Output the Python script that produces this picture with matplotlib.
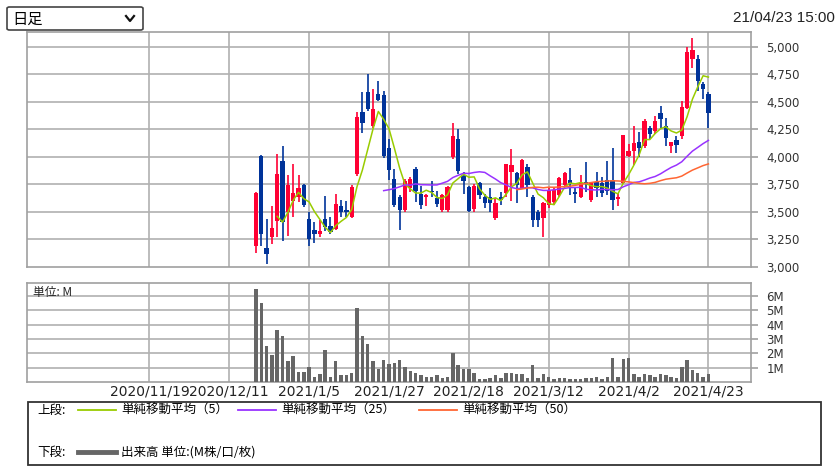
# 日足チャート (candles + moving averages + volume)
import numpy as np
import pandas as pd
import matplotlib
matplotlib.use('Agg')
import matplotlib.pyplot as plt
from matplotlib.lines import Line2D
from matplotlib.patches import Rectangle, FancyBboxPatch

plt.rcParams['font.family'] = ['Noto Sans CJK JP', 'DejaVu Sans']

# daily OHLC, 2020/12/18 .. 2021/4/23 (86 trading days)
opens = [3190, 4006, 3173, 3273, 3418, 3961, 3500, 3600, 3636, 3748,
         3439, 3333, 3303, 3433, 3370, 3348, 3551, 3515, 3455, 3842,
         4411, 4588, 4283, 4573, 4563, 4084, 3800, 3635, 3515, 3715,
         3890, 3665, 3635, 3695, 3629, 3515, 3515, 4000, 4160, 3830,
         3730, 3530, 3760, 3640, 3640, 3443, 3639, 3669, 3865, 3855,
         3714, 3910, 3639, 3500, 3443, 3563, 3590, 3654, 3744, 3790,
         3684, 3639, 3775, 3610, 3775, 3761, 3790, 3791, 3620, 3761,
         4005, 4050, 4134, 4097, 4266, 4235, 4400, 4281, 4097, 4152,
         4189, 4449, 4893, 4893, 4663, 4572]
highs = [3680, 4015, 3433, 3551, 4030, 4097, 3833, 3939, 3833, 3757,
         3500, 3409, 3424, 3642, 3455, 3661, 3606, 3600, 3742, 4409,
         4588, 4756, 4618, 4689, 4603, 4160, 3890, 3650, 3800, 3815,
         3905, 3740, 3665, 3785, 3695, 3665, 3740, 4310, 4250, 3860,
         3740, 3755, 3770, 3660, 3714, 3623, 3685, 3940, 4075, 3865,
         3978, 3940, 3655, 3520, 3590, 3720, 3720, 3820, 3865, 3904,
         3730, 3835, 3955, 3775, 3865, 3820, 3960, 4082, 3670, 4204,
         4120, 4281, 4230, 4342, 4282, 4373, 4460, 4358, 4134, 4189,
         4510, 5000, 5083, 4924, 4680, 4587]
lows = [3125, 3188, 3030, 3206, 3273, 3236, 3282, 3455, 3591, 3545,
        3191, 3221, 3273, 3327, 3303, 3339, 3455, 3455, 3448, 3824,
        4221, 4420, 4267, 4512, 3993, 3794, 3545, 3335, 3500, 3680,
        3590, 3530, 3550, 3635, 3545, 3500, 3500, 3985, 3845, 3665,
        3500, 3500, 3620, 3540, 3503, 3428, 3565, 3640, 3600, 3578,
        3705, 3640, 3367, 3364, 3277, 3540, 3560, 3640, 3730, 3654,
        3580, 3630, 3684, 3595, 3640, 3640, 3650, 3516, 3550, 3750,
        4000, 3930, 4000, 4080, 4160, 4205, 4266, 4100, 4035, 4035,
        4160, 4435, 4810, 4602, 4526, 4266]
closes = [3673, 3303, 3121, 3358, 3848, 3409, 3742, 3673, 3721, 3561,
          3258, 3303, 3324, 3364, 3318, 3570, 3500, 3500, 3727, 4364,
          4313, 4435, 4435, 4521, 4008, 3886, 3560, 3521, 3785, 3800,
          3695, 3560, 3650, 3680, 3575, 3650, 3725, 4190, 3875, 3780,
          3510, 3740, 3650, 3585, 3585, 3584, 3609, 3940, 3925, 3744,
          3970, 3744, 3428, 3428, 3578, 3700, 3700, 3805, 3850, 3760,
          3663, 3760, 3753, 3760, 3714, 3669, 3690, 3608, 3640, 4204,
          4050, 4128, 4082, 4327, 4205, 4327, 4342, 4174, 4134, 4113,
          4458, 4954, 4969, 4694, 4617, 4397]
# volume in millions of shares
volume = [6.49, 5.50, 2.52, 1.90, 3.62, 3.20, 1.43, 1.79, 0.73, 0.73,
          1.08, 0.38, 0.56, 2.21, 0.38, 1.43, 0.47, 0.47, 0.64, 5.15,
          3.20, 2.66, 1.43, 0.92, 1.50, 1.27, 1.34, 1.50, 1.08, 0.80,
          0.64, 0.47, 0.38, 0.38, 0.47, 0.28, 0.38, 2.05, 1.18, 0.92,
          0.92, 0.64, 0.19, 0.19, 0.28, 0.47, 0.28, 0.64, 0.64, 0.56,
          0.56, 0.28, 1.18, 0.28, 0.56, 0.38, 0.19, 0.28, 0.28, 0.19,
          0.19, 0.19, 0.28, 0.28, 0.38, 0.19, 0.38, 1.69, 0.38, 1.60,
          1.69, 0.56, 0.38, 0.56, 0.47, 0.38, 0.56, 0.47, 0.38, 0.28,
          1.08, 1.50, 0.82, 0.64, 0.38, 0.56]

date_labels = ['2020/11/19', '2020/12/11', '2021/1/5', '2021/1/27',
               '2021/2/18', '2021/3/12', '2021/4/2', '2021/4/23']
price_ticks = [3000, 3250, 3500, 3750, 4000, 4250, 4500, 4750, 5000]
vol_ticks = [1, 2, 3, 4, 5, 6]
ma_periods = [5, 25, 50]
ma_colors = ['#99cc00', '#9933ff', '#ff6633']

UP = '#ff0033'
DOWN = '#003399'
GRID = '#b0b0b0'

o = np.array(opens)
h = np.array(highs)
l = np.array(lows)
c = np.array(closes)
x = np.arange(len(c))
tick_pos = np.arange(-20, 86, 15)
xlim = (-43, 93)

fig = plt.figure(figsize=(8.4, 4.7), dpi=100)
W, H = 840, 470


def fx(px):
    return px / W


def fy(py):
    return 1 - py / H


def style_axes(ax):
    for s in ax.spines.values():
        s.set_color('#a0a0a0')
        s.set_linewidth(1.2)
    ax.yaxis.tick_right()
    ax.tick_params(axis='y', colors='#a0a0a0', labelcolor='#333333',
                   length=5, width=1.2, labelsize=8.5, pad=6)
    ax.tick_params(axis='x', length=0)
    ax.set_xlim(*xlim)
    for t in tick_pos:
        ax.axvline(t, color=GRID, lw=1.2, zorder=0)


# --- price panel ---
ax = fig.add_axes([fx(27), fy(267), fx(751) - fx(27), fy(32) - fy(267)])
style_axes(ax)
ax.set_ylim(3000, 5136)
ax.set_yticks(price_ticks)
ax.set_yticklabels([f'{v:,}' for v in price_ticks], family='DejaVu Sans')
ax.set_xticks([])
for v in price_ticks[1:]:
    ax.axhline(v, color=GRID, lw=1.2, zorder=0)

up = c >= o
colors = np.where(up, UP, DOWN)
ax.vlines(x, l, h, colors=colors, lw=1.2, zorder=2)
body = np.maximum(np.abs(c - o), 8)
ax.bar(x, body, bottom=np.minimum(o, c), width=0.8, color=colors,
       linewidth=0, zorder=3)

s = pd.Series(c, dtype=float)
for n, col in zip(ma_periods, ma_colors):
    ax.plot(x, s.rolling(n).mean(), color=col, lw=1.1, zorder=4)

# --- volume panel ---
axv = fig.add_axes([fx(27), fy(382), fx(751) - fx(27), fy(283) - fy(382)])
style_axes(axv)
axv.set_ylim(0, 6.9)
axv.set_yticks(vol_ticks)
axv.set_yticklabels([f'{v}M' for v in vol_ticks], family='DejaVu Sans')
for v in vol_ticks:
    axv.axhline(v, color=GRID, lw=1.2, zorder=0)
axv.bar(x, volume, width=0.65, color='#666666', linewidth=0, zorder=3)
axv.set_xticks(tick_pos)
axv.set_xticklabels(date_labels, family='DejaVu Sans', fontsize=10,
                    color='#222222')
axv.tick_params(axis='x', pad=2)
axv.text(0.008, 0.97, '単位: M', transform=axv.transAxes, fontsize=8.5,
         va='top', ha='left', color='#222222')

# --- header ---
fig.patches.append(FancyBboxPatch((fx(7), fy(30)), fx(143) - fx(7), fy(7) - fy(30),
                                  boxstyle='round,pad=0,rounding_size=0.003',
                                  transform=fig.transFigure, fill=False,
                                  edgecolor='#444444', lw=1.2))
fig.text(fx(12), fy(19), '日足', fontsize=11, va='center', ha='left')
fig.add_artist(Line2D([fx(126), fx(130), fx(134)], [fy(16), fy(21), fy(16)],
                      transform=fig.transFigure, color='#111111', lw=1.6))
fig.text(fx(835), fy(18), '21/04/23 15:00', fontsize=11, va='center', ha='right',
         family='Liberation Sans', color='#222222')

# --- legend box ---
fig.patches.append(Rectangle((fx(28), fy(465)), fx(821) - fx(28), fy(402) - fy(465),
                             transform=fig.transFigure, fill=False,
                             edgecolor='#333333', lw=1.3))
fig.text(fx(37), fy(410), '上段:', fontsize=9, va='center')
leg_x = [78, 238, 419]
for lx, n, col in zip(leg_x, ma_periods, ma_colors):
    fig.add_artist(Line2D([fx(lx), fx(lx + 38)], [fy(410), fy(410)],
                          transform=fig.transFigure, color=col, lw=1.3))
    fig.text(fx(lx + 43), fy(410), f'単純移動平均（{n}）', fontsize=9, va='center')
fig.text(fx(37), fy(452), '下段:', fontsize=9, va='center')
fig.add_artist(Line2D([fx(78), fx(116)], [fy(452), fy(452)],
                      transform=fig.transFigure, color='#666666', lw=3.5))
fig.text(fx(121), fy(452), '出来高 単位:(M株/口/枚)', fontsize=9, va='center')

fig.savefig('out.png', dpi=100)
